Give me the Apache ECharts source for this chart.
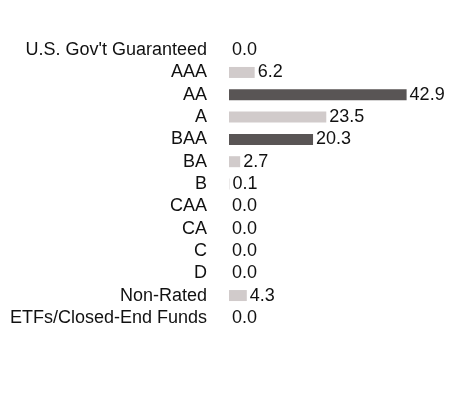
<!DOCTYPE html>
<html>
<head>
<meta charset="utf-8">
<script src="https://cdn.jsdelivr.net/npm/echarts@6/dist/echarts.min.js"></script>
<style>
    html, body { margin: 0; padding: 0; background: #fff; }
    #chart { width: 468px; height: 414px; }
</style>
</head>
<body>
<div id="chart"></div>
<script>
    var categories = ['U.S. Gov\'t Guaranteed', 'AAA', 'AA', 'A', 'BAA', 'BA', 'B', 'CAA', 'CA', 'C', 'D', 'Non-Rated', 'ETFs/Closed-End Funds'];
    var values = [0.0, 6.2, 42.9, 23.5, 20.3, 2.7, 0.1, 0.0, 0.0, 0.0, 0.0, 4.3, 0.0];
    var darkRows = ['AA', 'BAA'];

    var chart = echarts.init(document.getElementById('chart'));

    chart.setOption({
        animation: false,
        grid: {
            top: 39,
            bottom: 85,
            left: 229,
            right: 32
        },
        xAxis: {
            type: 'value',
            min: 0,
            max: 50,
            show: false
        },
        yAxis: {
            type: 'category',
            inverse: true,
            data: categories,
            axisLine: { show: false },
            axisTick: { show: false },
            splitLine: { show: false },
            axisLabel: {
                interval: 0,
                margin: 22,
                fontSize: 18,
                fontFamily: 'Liberation Sans, Arial, sans-serif',
                color: '#111'
            }
        },
        series: [
            {
                type: 'bar',
                barWidth: 11,
                data: values.map(function (v, i) {
                    return {
                        value: v,
                        itemStyle: {
                            color: darkRows.indexOf(categories[i]) >= 0 ? '#595555' : '#d1cbcb'
                        }
                    };
                }),
                label: {
                    show: true,
                    position: 'right',
                    distance: 3,
                    fontSize: 18,
                    fontFamily: 'Liberation Sans, Arial, sans-serif',
                    color: '#111',
                    formatter: function (p) {
                        return p.value.toFixed(1);
                    }
                }
            }
        ]
    });
</script>
</body>
</html>
